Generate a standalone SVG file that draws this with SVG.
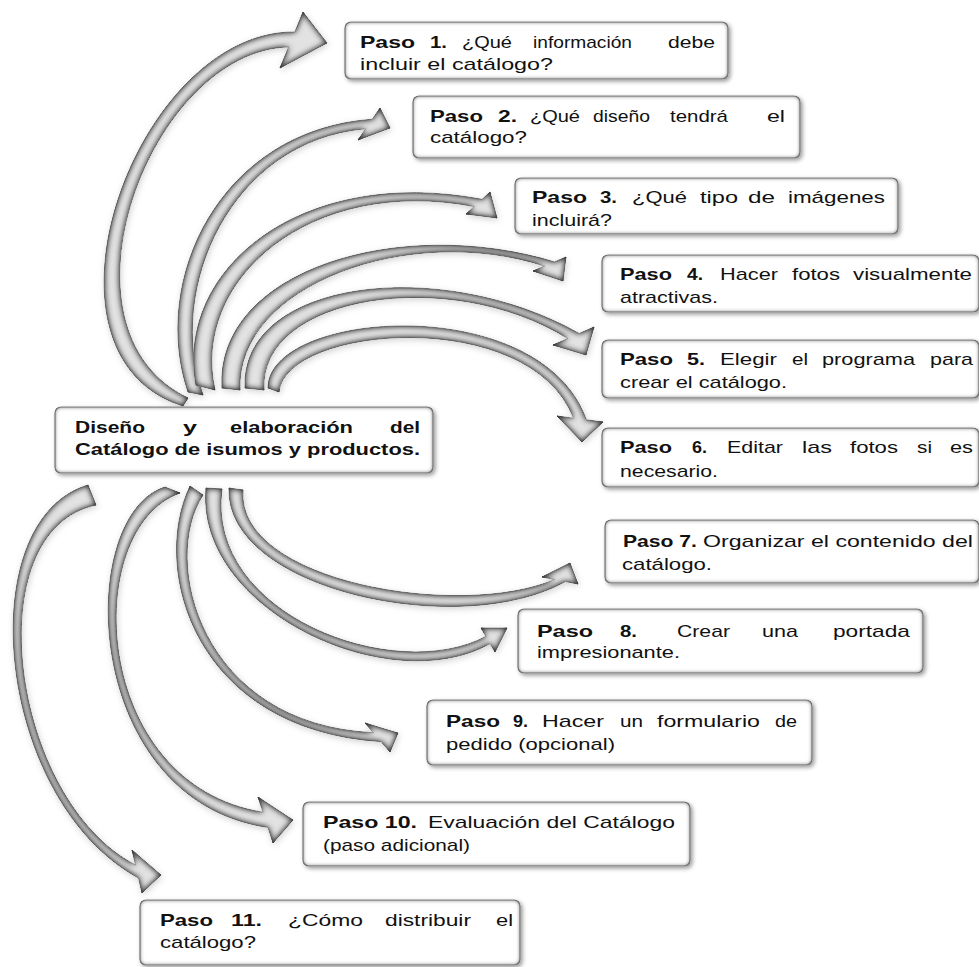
<svg xmlns="http://www.w3.org/2000/svg" width="979" height="967" viewBox="0 0 979 967">
<defs>
<style>
.t{font-family:"Liberation Sans",Arial,sans-serif;font-size:17px;fill:#111}
.b{font-weight:bold}
.box{fill:#fff;stroke:#8a8a8a;stroke-width:1.2;filter:url(#fb)}
.arr{fill:#e2e2e2;stroke:#8c8c8c;stroke-width:0.8;filter:url(#fa)}
</style>
<filter id="fb" x="-4%" y="-10%" width="110%" height="130%">
<feGaussianBlur in="SourceAlpha" stdDeviation="2.2" result="b"/>
<feComposite in="SourceAlpha" in2="b" operator="arithmetic" k2="1" k3="-1" result="e"/>
<feFlood flood-color="#666" result="c"/>
<feComposite in="c" in2="e" operator="in" result="inner"/>
<feOffset in="b" dx="2" dy="2" result="o"/>
<feFlood flood-color="#000" flood-opacity="0.4"/>
<feComposite in2="o" operator="in" result="drop"/>
<feMerge><feMergeNode in="drop"/><feMergeNode in="SourceGraphic"/><feMergeNode in="inner"/><feMergeNode in="inner"/></feMerge>
</filter>
<filter id="fa" x="-10%" y="-10%" width="120%" height="120%">
<feGaussianBlur in="SourceAlpha" stdDeviation="3" result="b"/>
<feComposite in="SourceAlpha" in2="b" operator="arithmetic" k2="1" k3="-1" result="e"/>
<feFlood flood-color="#3c3c3c" result="c"/>
<feComposite in="c" in2="e" operator="in" result="inner"/>
<feOffset in="b" dx="1" dy="1.5" result="o"/>
<feFlood flood-color="#000" flood-opacity="0.18"/>
<feComposite in2="o" operator="in" result="drop"/>
<feMerge><feMergeNode in="drop"/><feMergeNode in="SourceGraphic"/><feMergeNode in="inner"/><feMergeNode in="inner"/><feMergeNode in="inner"/></feMerge>
</filter>
</defs>
<rect width="979" height="967" fill="#fff"/>
<g id="connectors">
<path class="arr" d="M172,402 C25,340 140,30 294.8,32 L303,12 L327,43 L280,68 L288.6,47 C150,50 45,330 188,398 L183,406 Z"/>
<path class="arr" d="M188,392 C150,280 220,130 372.3,119.2 L380,108 L390,128 L358,140 L365.7,128.8 C230,140 165,290 203,395 Z"/>
<path class="arr" d="M196,385 C175,270 300,165 482,199.3 L490,192 L497,218 L466,214 L474.2,206.5 C310,175 190,280 215,390 Z"/>
<path class="arr" d="M222,388 C215,270 400,215 554.5,261.9 L566,257 L563,281 L533,271 L544.6,266.1 C410,222 235,285 240,390 Z"/>
<path class="arr" d="M245,388 C240,280 440,255 579.2,333.5 L594,327 L586,355 L553,345 L567.8,338.5 C450,265 258,295 264,390 Z"/>
<path class="arr" d="M268,388 C268,310 540,290 586.4,419.8 L603,422 L582,442 L557,416 L573.6,418.2 C530,305 285,325 279,392 Z"/>
<path class="arr" d="M229,488 C225,590 460,640 565.4,581.6 L578,584 L570,563 L542,577 L554.6,579.5 C460,620 235,582 243,490 Z"/>
<path class="arr" d="M206,488 C195,610 390,700 490.1,643.6 L495,652 L507,628 L481,628 L485.9,636.4 C395,685 205,615 222,489 Z"/>
<path class="arr" d="M190,486 C150,570 195,730 381,741.6 L390,752 L398,733 L365,723 L373.3,732.6 C200,725 160,560 203,495 Z"/>
<path class="arr" d="M165,487 C75,515 80,800 268,827.4 L273,843 L293,820 L258,797 L263,812.2 C90,785 80,528 180,493 Z"/>
<path class="arr" d="M88,485 C-30,520 -5,800 138.5,878 L142,893 L161,875 L132,850 L135.5,865 C10,800 -25,530 96,505 Z"/>
</g>
<g id="main">
<rect class="box" x="55" y="407" width="378" height="66" rx="6"/>
<text class="t b" x="75" y="433" textLength="70" lengthAdjust="spacingAndGlyphs">Diseño</text>
<text class="t b" x="183" y="433" textLength="14" lengthAdjust="spacingAndGlyphs">y</text>
<text class="t b" x="230" y="433" textLength="123" lengthAdjust="spacingAndGlyphs">elaboración</text>
<text class="t b" x="390" y="433" textLength="30" lengthAdjust="spacingAndGlyphs">del</text>
<text class="t b" x="75" y="455" textLength="345" lengthAdjust="spacingAndGlyphs">Catálogo de isumos y productos.</text>
</g>
<g id="paso1">
<rect class="box" x="345" y="22" width="383" height="57" rx="6"/>
<text class="t b" x="360" y="48" textLength="55" lengthAdjust="spacingAndGlyphs">Paso</text>
<text class="t b" x="430" y="48" textLength="17" lengthAdjust="spacingAndGlyphs">1.</text>
<text class="t" x="462" y="48" textLength="50" lengthAdjust="spacingAndGlyphs">¿Qué</text>
<text class="t" x="533" y="48" textLength="99" lengthAdjust="spacingAndGlyphs">información</text>
<text class="t" x="668" y="48" textLength="47" lengthAdjust="spacingAndGlyphs">debe</text>
<text class="t" x="360" y="70" textLength="193" lengthAdjust="spacingAndGlyphs">incluir el catálogo?</text>
</g>
<g id="paso2">
<rect class="box" x="413" y="96" width="387" height="62" rx="6"/>
<text class="t b" x="430" y="122" textLength="53" lengthAdjust="spacingAndGlyphs">Paso</text>
<text class="t b" x="498" y="122" textLength="19" lengthAdjust="spacingAndGlyphs">2.</text>
<text class="t" x="530" y="122" textLength="50" lengthAdjust="spacingAndGlyphs">¿Qué</text>
<text class="t" x="593" y="122" textLength="57" lengthAdjust="spacingAndGlyphs">diseño</text>
<text class="t" x="670" y="122" textLength="58" lengthAdjust="spacingAndGlyphs">tendrá</text>
<text class="t" x="767" y="122" textLength="18" lengthAdjust="spacingAndGlyphs">el</text>
<text class="t" x="430" y="143" textLength="97" lengthAdjust="spacingAndGlyphs">catálogo?</text>
</g>
<g id="paso3">
<rect class="box" x="515" y="178" width="383" height="56" rx="6"/>
<text class="t b" x="532" y="203" textLength="55" lengthAdjust="spacingAndGlyphs">Paso</text>
<text class="t b" x="600" y="203" textLength="17" lengthAdjust="spacingAndGlyphs">3.</text>
<text class="t" x="632" y="203" textLength="55" lengthAdjust="spacingAndGlyphs">¿Qué</text>
<text class="t" x="700" y="203" textLength="38" lengthAdjust="spacingAndGlyphs">tipo</text>
<text class="t" x="748" y="203" textLength="27" lengthAdjust="spacingAndGlyphs">de</text>
<text class="t" x="788" y="203" textLength="97" lengthAdjust="spacingAndGlyphs">imágenes</text>
<text class="t" x="532" y="226" textLength="80" lengthAdjust="spacingAndGlyphs">incluirá?</text>
</g>
<g id="paso4">
<rect class="box" x="602" y="255" width="377" height="57" rx="6"/>
<text class="t b" x="620" y="280" textLength="52" lengthAdjust="spacingAndGlyphs">Paso</text>
<text class="t b" x="687" y="280" textLength="16" lengthAdjust="spacingAndGlyphs">4.</text>
<text class="t" x="720" y="280" textLength="58" lengthAdjust="spacingAndGlyphs">Hacer</text>
<text class="t" x="792" y="280" textLength="48" lengthAdjust="spacingAndGlyphs">fotos</text>
<text class="t" x="853" y="280" textLength="119" lengthAdjust="spacingAndGlyphs">visualmente</text>
<text class="t" x="620" y="303" textLength="98" lengthAdjust="spacingAndGlyphs">atractivas.</text>
</g>
<g id="paso5">
<rect class="box" x="602" y="340" width="377" height="58" rx="6"/>
<text class="t b" x="620" y="365" textLength="53" lengthAdjust="spacingAndGlyphs">Paso</text>
<text class="t b" x="687" y="365" textLength="18" lengthAdjust="spacingAndGlyphs">5.</text>
<text class="t" x="720" y="365" textLength="57" lengthAdjust="spacingAndGlyphs">Elegir</text>
<text class="t" x="792" y="365" textLength="16" lengthAdjust="spacingAndGlyphs">el</text>
<text class="t" x="822" y="365" textLength="93" lengthAdjust="spacingAndGlyphs">programa</text>
<text class="t" x="930" y="365" textLength="43" lengthAdjust="spacingAndGlyphs">para</text>
<text class="t" x="620" y="388" textLength="167" lengthAdjust="spacingAndGlyphs">crear el catálogo.</text>
</g>
<g id="paso6">
<rect class="box" x="602" y="428" width="377" height="59" rx="6"/>
<text class="t b" x="620" y="453" textLength="52" lengthAdjust="spacingAndGlyphs">Paso</text>
<text class="t b" x="692" y="453" textLength="15" lengthAdjust="spacingAndGlyphs">6.</text>
<text class="t" x="727" y="453" textLength="56" lengthAdjust="spacingAndGlyphs">Editar</text>
<text class="t" x="802" y="453" textLength="30" lengthAdjust="spacingAndGlyphs">las</text>
<text class="t" x="850" y="453" textLength="48" lengthAdjust="spacingAndGlyphs">fotos</text>
<text class="t" x="917" y="453" textLength="15" lengthAdjust="spacingAndGlyphs">si</text>
<text class="t" x="950" y="453" textLength="23" lengthAdjust="spacingAndGlyphs">es</text>
<text class="t" x="620" y="477" textLength="98" lengthAdjust="spacingAndGlyphs">necesario.</text>
</g>
<g id="paso7">
<rect class="box" x="605" y="520" width="374" height="63" rx="6"/>
<text class="t b" x="623" y="547" textLength="74" lengthAdjust="spacingAndGlyphs">Paso 7.</text>
<text class="t" x="703" y="547" textLength="270" lengthAdjust="spacingAndGlyphs">Organizar el contenido del</text>
<text class="t" x="622" y="570" textLength="90" lengthAdjust="spacingAndGlyphs">catálogo.</text>
</g>
<g id="paso8">
<rect class="box" x="518" y="609" width="405" height="64" rx="6"/>
<text class="t b" x="537" y="637" textLength="56" lengthAdjust="spacingAndGlyphs">Paso</text>
<text class="t b" x="620" y="637" textLength="17" lengthAdjust="spacingAndGlyphs">8.</text>
<text class="t" x="677" y="637" textLength="53" lengthAdjust="spacingAndGlyphs">Crear</text>
<text class="t" x="762" y="637" textLength="36" lengthAdjust="spacingAndGlyphs">una</text>
<text class="t" x="833" y="637" textLength="77" lengthAdjust="spacingAndGlyphs">portada</text>
<text class="t" x="537" y="658" textLength="143" lengthAdjust="spacingAndGlyphs">impresionante.</text>
</g>
<g id="paso9">
<rect class="box" x="427" y="700" width="385" height="65" rx="6"/>
<text class="t b" x="446" y="727" textLength="54" lengthAdjust="spacingAndGlyphs">Paso</text>
<text class="t b" x="513" y="727" textLength="15" lengthAdjust="spacingAndGlyphs">9.</text>
<text class="t" x="542" y="727" textLength="62" lengthAdjust="spacingAndGlyphs">Hacer</text>
<text class="t" x="620" y="727" textLength="23" lengthAdjust="spacingAndGlyphs">un</text>
<text class="t" x="657" y="727" textLength="103" lengthAdjust="spacingAndGlyphs">formulario</text>
<text class="t" x="775" y="727" textLength="22" lengthAdjust="spacingAndGlyphs">de</text>
<text class="t" x="446" y="750" textLength="169" lengthAdjust="spacingAndGlyphs">pedido (opcional)</text>
</g>
<g id="paso10">
<rect class="box" x="303" y="802" width="387" height="64" rx="6"/>
<text class="t b" x="323" y="828" textLength="94" lengthAdjust="spacingAndGlyphs">Paso 10.</text>
<text class="t" x="428" y="828" textLength="247" lengthAdjust="spacingAndGlyphs">Evaluación del Catálogo</text>
<text class="t" x="323" y="851" textLength="147" lengthAdjust="spacingAndGlyphs">(paso adicional)</text>
</g>
<g id="paso11">
<rect class="box" x="140" y="900" width="380" height="65" rx="6"/>
<text class="t b" x="160" y="926" textLength="53" lengthAdjust="spacingAndGlyphs">Paso</text>
<text class="t b" x="231" y="926" textLength="31" lengthAdjust="spacingAndGlyphs">11.</text>
<text class="t" x="288" y="926" textLength="75" lengthAdjust="spacingAndGlyphs">¿Cómo</text>
<text class="t" x="385" y="926" textLength="86" lengthAdjust="spacingAndGlyphs">distribuir</text>
<text class="t" x="496" y="926" textLength="17" lengthAdjust="spacingAndGlyphs">el</text>
<text class="t" x="160" y="948" textLength="96" lengthAdjust="spacingAndGlyphs">catálogo?</text>
</g>
</svg>
